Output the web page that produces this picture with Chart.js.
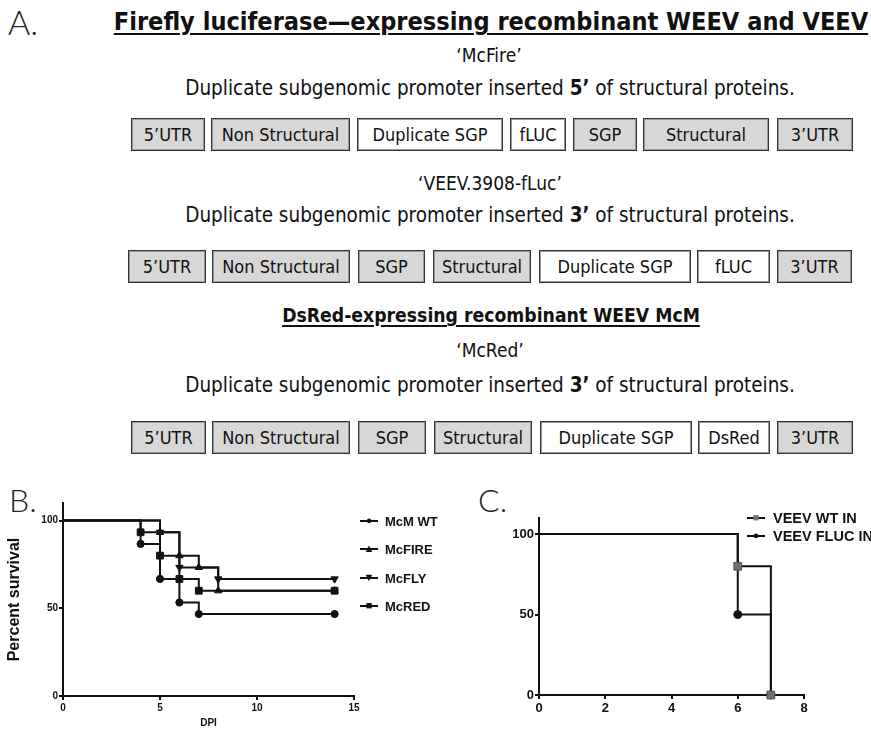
<!DOCTYPE html>
<html>
<head>
<meta charset="utf-8">
<script src="https://cdn.jsdelivr.net/npm/chart.js@4"></script>
<style>
  html, body { margin: 0; padding: 0; background: #fff; }
  body { width: 871px; height: 731px; position: relative; overflow: hidden; }
  .t { position: absolute; white-space: nowrap; color: #111; line-height: 1; }
  .cond { font-family: 'DejaVu Sans Condensed', 'DejaVu Sans', sans-serif; }
  .box { position: absolute; box-sizing: border-box; border: 1.5px solid #333;
         box-shadow: inset 0 0 0 1px #9a9a9a; display: flex; align-items: center;
         justify-content: center; font-family: 'DejaVu Sans Condensed', sans-serif;
         font-size: 18px; color: #111; white-space: nowrap; }
  .gray { background: #d7d7d7; }
  .white { background: #fff; }
  .panel { position: absolute; font-family: Lato, 'Open Sans', sans-serif; font-weight: 300;
           color: #222; line-height: 1; }
  .leg { position: absolute; font-family: 'Liberation Sans', Arial, sans-serif; font-weight: bold;
         white-space: nowrap; display: flex; align-items: center; color: #111; }
  .sym { position: relative; width: 18px; height: 2px; background: #111; margin-right: 7px; }
  .sym span { position: absolute; left: 50%; top: 50%; transform: translate(-50%, -52%);
              font-size: 11px; line-height: 1; }
  canvas { position: absolute; }
</style>
</head>
<body>
<div class="panel" style="left:8px; top:5px; font-size:34px;">A.</div>
<div class="panel" style="left:9px; top:484px; font-size:32px;">B.</div>
<div class="panel" style="left:478px; top:484px; font-size:32px;">C.</div>

<div id="a"></div>

<div id="chartB" style="position:absolute; left:0; top:495px; width:450px; height:236px;"><canvas id="cb"></canvas></div>
<div id="chartC" style="position:absolute; left:450px; top:505px; width:421px; height:226px;"><canvas id="cc"></canvas></div>

<div id="legB"></div>
<div id="legC"></div>

<script>
// Panel B: survival (%) by day post infection, step changes only
const groupsB = ['McM WT', 'McFIRE', 'McFLY', 'McRED'];
const dpiWT   = [0, 4, 5, 6, 7, 14];
const survWT  = [100, 86.7, 66.7, 53.3, 46.7, 46.7];
const dpiFire = [0, 5, 6, 7, 8, 14];
const survFire = [100, 93.3, 80, 73.3, 60, 60];
const dpiFly  = [0, 5, 6, 8, 14];
const survFly = [100, 93.3, 73.3, 66.7, 66.7];
const dpiRed  = [0, 4, 5, 6, 7, 14];
const survRed = [100, 93.3, 80, 66.7, 60, 60];
const yTicks  = [0, 50, 100];

// Panel C
const groupsC  = ['VEEV WT IN', 'VEEV FLUC IN'];
const dpiC     = [0, 6, 7];
const survWtC  = [100, 80, 0];
const survFlucC = [100, 50, 0];

// ---- Panel A diagram (HTML) ----
const a = document.getElementById('a');

function addText(html, cx, cy, cls, style, fitW) {
  const el = document.createElement('div');
  el.className = 't ' + cls;
  el.innerHTML = html;
  el.style.cssText += style;
  a.appendChild(el);
  if (fitW) {
    const w = el.getBoundingClientRect().width;
    el.style.fontSize = (parseFloat(getComputedStyle(el).fontSize) * fitW / w) + 'px';
  }
  const r = el.getBoundingClientRect();
  el.style.left = (cx - r.width / 2) + 'px';
  el.style.top = (cy - r.height / 2) + 'px';
  return el;
}

addText('Firefly luciferase\u2014expressing recombinant WEEV and VEEV', 491, 22, 'cond',
  'font-weight:bold; font-size:26px; text-decoration:underline; text-underline-offset:3px; text-decoration-thickness:2px;', 755);
addText('\u2018McFire\u2019', 489, 55, 'cond', 'font-size:19px;');
addText('Duplicate subgenomic promoter inserted <b>5\u2019</b> of structural proteins.', 490, 88, 'cond', 'font-size:19px;', 610);
addText('\u2018VEEV.3908-fLuc\u2019', 490, 183, 'cond', 'font-size:19px;');
addText('Duplicate subgenomic promoter inserted <b>3\u2019</b> of structural proteins.', 490, 215, 'cond', 'font-size:19px;', 610);
addText('DsRed-expressing recombinant WEEV McM', 491, 316, 'cond',
  'font-weight:bold; font-size:26px; text-decoration:underline; text-underline-offset:3px; text-decoration-thickness:2px;', 418);
addText('\u2018McRed\u2019', 490, 350, 'cond', 'font-size:19px;');
addText('Duplicate subgenomic promoter inserted <b>3\u2019</b> of structural proteins.', 490, 385, 'cond', 'font-size:19px;', 610);

const boxRows = [
  { top: 118, h: 33, boxes: [['5\u2019UTR', 131, 205, 1], ['Non Structural', 211, 350, 1], ['Duplicate SGP', 357, 503, 0],
    ['fLUC', 510, 566, 0], ['SGP', 573, 637, 1], ['Structural', 643, 769, 1], ['3\u2019UTR', 777, 853, 1]] },
  { top: 250, h: 33, boxes: [['5\u2019UTR', 128, 206, 1], ['Non Structural', 212, 350, 1], ['SGP', 358, 425, 1],
    ['Structural', 433, 531, 1], ['Duplicate SGP', 539, 691, 0], ['fLUC', 697, 770, 0], ['3\u2019UTR', 777, 852, 1]] },
  { top: 421, h: 33, boxes: [['5\u2019UTR', 131, 206, 1], ['Non Structural', 212, 350, 1], ['SGP', 358, 426, 1],
    ['Structural', 434, 532, 1], ['Duplicate SGP', 540, 692, 0], ['DsRed', 698, 770, 0], ['3\u2019UTR', 777, 853, 1]] }
];
boxRows.forEach(row => {
  row.boxes.forEach(([label, x0, x1, gray]) => {
    const b = document.createElement('div');
    b.className = 'box ' + (gray ? 'gray' : 'white');
    b.style.left = x0 + 'px';
    b.style.top = row.top + 'px';
    b.style.width = (x1 - x0) + 'px';
    b.style.height = row.h + 'px';
    b.textContent = label;
    a.appendChild(b);
  });
});

// ---- Legends (HTML) ----
function legend(id, items, x, ys, size, gap) {
  const host = document.getElementById(id);
  items.forEach(([text, glyph, color], i) => {
    const d = document.createElement('div');
    d.className = 'leg';
    d.style.left = x + 'px';
    d.style.top = (ys[i] - 9) + 'px';
    d.style.height = '18px';
    d.style.fontSize = size + 'px';
    d.innerHTML = '<div class="sym" style="margin-right:' + gap + 'px"><span style="color:' + color + '">' + glyph + '</span></div>' + text;
    host.appendChild(d);
  });
}
legend('legB', [[groupsB[0], '\u25CF', '#111'], [groupsB[1], '\u25B2', '#111'], [groupsB[2], '\u25BC', '#111'], [groupsB[3], '\u25A0', '#111']],
  360, [521, 549, 578, 606], 13, 7);
legend('legC', [[groupsC[0], '\u25A0', '#777'], [groupsC[1], '\u25CF', '#111']], 747, [518, 536], 14.5, 8);

// ---- Charts ----
const pts = (xs, ys) => xs.map((x, i) => ({ x: x, y: ys[i] }));
const radii = (xs, r) => xs.map((x, i) => (i === 0 ? 0 : r));

function kmSet(label, xs, ys, style, r, extra) {
  return Object.assign({
    label: label,
    data: pts(xs, ys),
    showLine: true,
    stepped: true,
    borderColor: '#111',
    borderWidth: 2,
    backgroundColor: '#111',
    pointBorderColor: '#111',
    pointBorderWidth: 1,
    pointStyle: style,
    pointRadius: radii(xs, r),
    pointHoverRadius: radii(xs, r),
    clip: false
  }, extra || {});
}

function axes(xMax, xStep, tickFont, yWidth, xHeight, yTitle, xTitle) {
  const common = {
    border: { color: '#111', width: 2 },
    grid: { drawOnChartArea: false, drawTicks: true, tickLength: 4, color: '#111', lineWidth: 2 },
  };
  return {
    x: Object.assign({}, common, {
      type: 'linear', min: 0, max: xMax,
      ticks: { stepSize: xStep, color: '#111', font: tickFont, padding: 2, maxRotation: 0 },
      title: xTitle ? { display: true, text: xTitle, color: '#111',
        font: { family: "'Liberation Sans', Arial", weight: 'bold', size: 10 }, padding: { top: 0, bottom: 2 } } : { display: false },
      afterFit: s => { s.height = xHeight; }
    }),
    y: Object.assign({}, common, {
      type: 'linear', min: 0, max: 110,
      afterBuildTicks: s => { s.ticks = yTicks.map(v => ({ value: v })); },
      ticks: { color: '#111', font: tickFont, padding: 1 },
      title: yTitle ? { display: true, text: yTitle, color: '#111',
        font: { family: "'Liberation Sans', Arial", weight: 'bold', size: 16 }, padding: { top: 5, bottom: 0 } } : { display: false },
      afterFit: s => { s.width = yWidth; }
    })
  };
}

new Chart(document.getElementById('cb'), {
  type: 'scatter',
  data: {
    datasets: [
      kmSet(groupsB[0], dpiWT, survWT, 'circle', 3.6),
      kmSet(groupsB[1], dpiFire, survFire, 'triangle', 4.2),
      kmSet(groupsB[2], dpiFly, survFly, 'triangle', 4.2, { pointRotation: 180 }),
      kmSet(groupsB[3], dpiRed, survRed, 'rect', 4.8)
    ]
  },
  options: {
    responsive: true,
    maintainAspectRatio: false,
    animation: false,
    layout: { padding: { top: 8, right: 96, left: 0, bottom: 0 } },
    plugins: { legend: { display: false }, tooltip: { enabled: false } },
    scales: axes(15, 5, { family: "'Liberation Sans', Arial", weight: 'bold', size: 10 }, 63, 35, 'Percent survival', 'DPI')
  }
});

new Chart(document.getElementById('cc'), {
  type: 'scatter',
  data: {
    datasets: [
      kmSet(groupsC[0], dpiC, survWtC, 'rect', 5.5, { pointBackgroundColor: '#6f6f6f', pointBorderColor: '#555' }),
      kmSet(groupsC[1], dpiC, survFlucC, 'circle', 4)
    ]
  },
  options: {
    responsive: true,
    maintainAspectRatio: false,
    animation: false,
    layout: { padding: { top: 13, right: 67, left: 0, bottom: 0 } },
    plugins: { legend: { display: false }, tooltip: { enabled: false } },
    scales: axes(8, 2, { family: "'Liberation Sans', Arial", weight: 'bold', size: 13 }, 89, 36, null, null)
  }
});
</script>
</body>
</html>
